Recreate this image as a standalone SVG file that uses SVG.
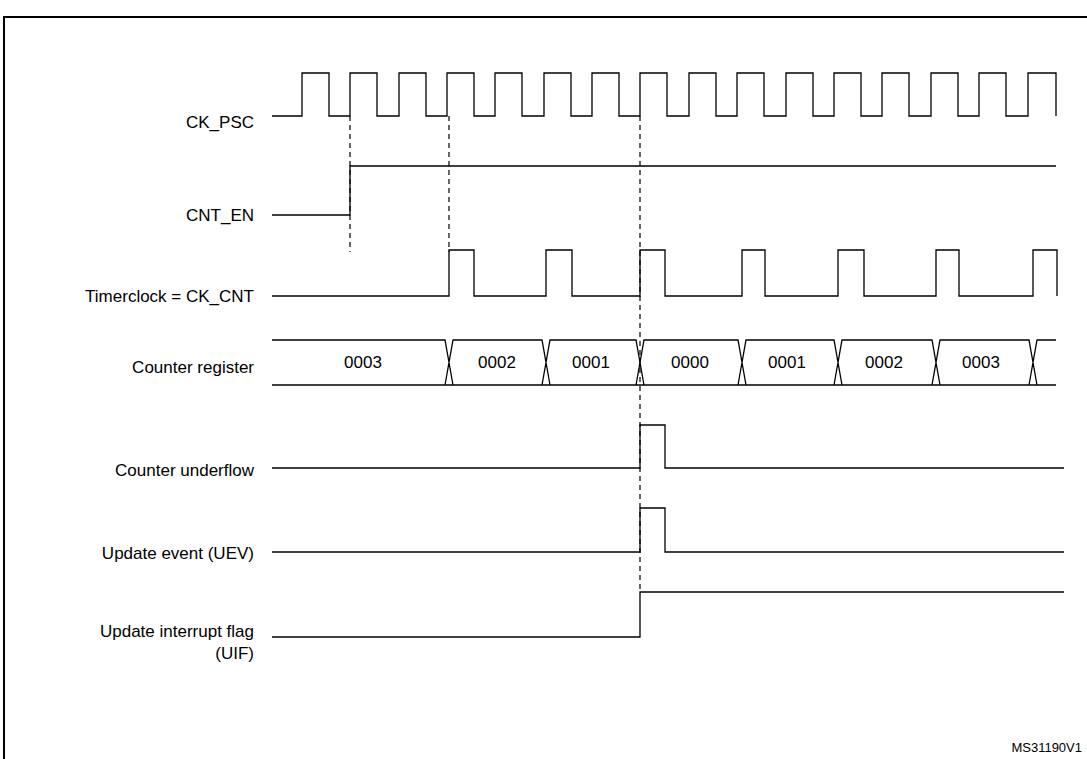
<svg xmlns="http://www.w3.org/2000/svg" width="1087" height="759" viewBox="0 0 1087 759">
<style>
.w{fill:none;stroke:#000;stroke-width:1.3}
.d{fill:none;stroke:#000;stroke-width:1.2;stroke-dasharray:5,4}
.l{font-family:"Liberation Sans",Arial,sans-serif;font-size:17px;text-anchor:end;fill:#000}
.v{font-family:"Liberation Sans",Arial,sans-serif;font-size:17px;text-anchor:middle;fill:#000}
</style>
<rect x="0" y="0" width="1087" height="759" fill="#fff"/>
<path d="M4,759 V17 H1087" fill="none" stroke="#000" stroke-width="2"/>
<g id="ck_psc">
<text class="l" x="254" y="128">CK_PSC</text>
<path class="w" d="M272,116 H302 V73 H329 V116 H350 V73 H377 V116 H399 V73 H426 V116 H447 V73 H474 V116 H495 V73 H522 V116 H544 V73 H571 V116 H592 V73 H619 V116 H640 V73 H667 V116 H689 V73 H716 V116 H737 V73 H764 V116 H786 V73 H813 V116 H834 V73 H861 V116 H882 V73 H909 V116 H931 V73 H958 V116 H979 V73 H1006 V116 H1028 V73 H1056 V116"/>
</g>
<g id="cnt_en">
<text class="l" x="254" y="221">CNT_EN</text>
<path class="w" d="M272,215 H350 V166 H1056"/>
</g>
<g id="timerclock">
<text class="l" x="254" y="302">Timerclock = CK_CNT</text>
<path class="w" d="M272,296 H449 V250 H474 V296 H546 V250 H572 V296 H640 V250 H665 V296 H742 V250 H765 V296 H838 V250 H864 V296 H936 V250 H959 V296 H1033 V250 H1057 V296"/>
</g>
<g id="counter">
<text class="l" x="254" y="373">Counter register</text>
<path class="w" d="M272,340 H445 L453,385 H272 M445,385 L453,340 H542 L550,385 H453 M542,385 L550,340 H636 L644,385 H550 M636,385 L644,340 H738 L746,385 H644 M738,385 L746,340 H834 L842,385 H746 M834,385 L842,340 H932 L940,385 H842 M932,385 L940,340 H1029 L1037,385 H940 M1029,385 L1037,340 H1056 M1037,385 H1056"/>
<text class="v" x="363" y="368">0003</text>
<text class="v" x="497" y="368">0002</text>
<text class="v" x="591" y="368">0001</text>
<text class="v" x="690" y="368">0000</text>
<text class="v" x="787" y="368">0001</text>
<text class="v" x="884" y="368">0002</text>
<text class="v" x="981" y="368">0003</text>
</g>
<g id="underflow">
<text class="l" x="254" y="476">Counter underflow</text>
<path class="w" d="M272,468 H640 V425 H665 V468 H1064"/>
</g>
<g id="uev">
<text class="l" x="254" y="559">Update event (UEV)</text>
<path class="w" d="M272,552 H640 V508 H665 V552 H1064"/>
</g>
<g id="uif">
<text class="l" x="254" y="637">Update interrupt flag</text>
<text class="l" x="254" y="659">(UIF)</text>
<path class="w" d="M272,637 H640 V592 H1064"/>
</g>
<g id="connectors">
<path class="d" d="M350,116 V252"/>
<path class="d" d="M449,116 V252"/>
<path class="d" d="M640,116 V592"/>
</g>
<text x="1082" y="752" font-family="'Liberation Sans',Arial,sans-serif" font-size="13" text-anchor="end">MS31190V1</text>
</svg>
